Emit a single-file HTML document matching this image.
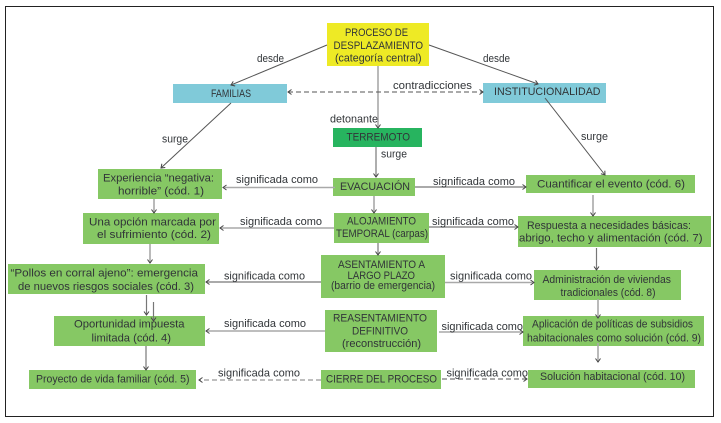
<!DOCTYPE html>
<html lang="es"><head><meta charset="utf-8"><title>Proceso de desplazamiento</title>
<style>
html,body{margin:0;padding:0;background:#fff;width:721px;height:423px;overflow:hidden}
svg{display:block}
text{font-family:"Liberation Sans",sans-serif;font-size:11px;fill:#303438}
.l{stroke:#555;stroke-width:1;fill:none;marker-end:url(#a)}
.g{stroke:#a9a9a9;stroke-width:1.6;fill:none;marker-end:url(#a)}
.m{stroke:#777;stroke-width:1.2;fill:none;marker-end:url(#a)}
.d{stroke-dasharray:5 3}
</style></head><body>
<svg width="721" height="423" viewBox="0 0 721 423" xmlns="http://www.w3.org/2000/svg">
<defs>
<marker id="a" markerUnits="userSpaceOnUse" markerWidth="8" markerHeight="8" refX="6" refY="4" orient="auto-start-reverse"><path d="M2.5 1.5L6 4L2.5 6.5" fill="none" stroke="#444" stroke-width="1"/></marker>
<filter id="b" x="-5%" y="-20%" width="110%" height="140%"><feGaussianBlur stdDeviation="0.22"/></filter>
</defs>
<rect x="5.5" y="6.5" width="708" height="410" fill="#fff" stroke="#222" stroke-width="1"/>
<g fill="#86c864">
<rect x="98" y="169" width="124" height="30"/>
<rect x="333" y="178" width="82" height="18"/>
<rect x="526" y="175" width="169" height="18"/>
<rect x="83" y="213" width="136" height="31"/>
<rect x="334" y="213" width="95" height="30"/>
<rect x="518" y="216" width="193" height="31"/>
<rect x="8" y="264" width="197" height="30"/>
<rect x="321" y="255" width="124" height="43"/>
<rect x="534" y="270" width="147" height="30"/>
<rect x="54" y="316" width="151" height="30"/>
<rect x="325" y="310" width="112" height="42"/>
<rect x="523" y="316" width="181" height="30"/>
<rect x="29" y="370" width="167" height="19"/>
<rect x="321" y="370" width="120" height="19"/>
<rect x="528" y="370" width="167" height="18"/>
</g>
<rect x="327" y="23" width="102" height="43" fill="#eeea25"/>
<rect x="173" y="84" width="114" height="19" fill="#80cad9"/>
<rect x="483" y="83" width="123" height="20" fill="#80cad9"/>
<rect x="333" y="128" width="89" height="19" fill="#27b45f"/>

<path class="l" d="M327 45L231 85"/>
<path class="l" d="M429 45L538 84"/>
<path class="l" d="M231 103L161 168"/>
<path class="l" d="M545 98L605 175"/>
<path class="g" d="M378 66V128"/>
<path class="l d" d="M288 92H483" style="marker-start:url(#a)"/>
<path class="m" d="M376 147V177"/>
<path class="g" d="M335 187.5H223"/>
<path class="m" d="M415 187H526"/>
<path class="g" d="M374 196V213"/>
<path class="g" d="M154 199V213"/>
<path class="g" d="M334 228H220"/>
<path class="m" d="M429 227H518"/>
<path class="m" d="M378 243V255"/>
<path class="g" d="M150 244V263"/>
<path class="m" d="M321 282H206"/>
<path class="g" d="M445 282.5H534"/>
<path class="m" d="M146.5 295V315"/>
<path class="m" d="M153.5 302V321"/>
<path class="g" d="M325 331H206"/>
<path class="g" d="M439 332H523"/>
<path class="m" d="M146 346V370"/>
<path class="g d" d="M321 380H199"/>
<path class="l d" d="M442 379H527"/>
<path class="g" d="M593 195V216"/>
<path class="m" d="M596.5 248V270"/>
<path class="g" d="M598 299V318"/>
<path class="g" d="M598 343V362"/>

<g filter="url(#b)" lengthAdjust="spacingAndGlyphs">
<text x="345" y="36" textLength="63" lengthAdjust="spacingAndGlyphs">PROCESO DE</text>
<text x="333.5" y="49" textLength="89.5" lengthAdjust="spacingAndGlyphs">DESPLAZAMIENTO</text>
<text x="335" y="61.5" textLength="86.5" lengthAdjust="spacingAndGlyphs">(categoría central)</text>
<text x="257" y="62" textLength="27" lengthAdjust="spacingAndGlyphs">desde</text>
<text x="483" y="62" textLength="27" lengthAdjust="spacingAndGlyphs">desde</text>
<text x="211" y="97" textLength="40" lengthAdjust="spacingAndGlyphs">FAMILIAS</text>
<text x="393" y="89" textLength="79" lengthAdjust="spacingAndGlyphs">contradicciones</text>
<text x="494" y="95" textLength="106.5" lengthAdjust="spacingAndGlyphs">INSTITUCIONALIDAD</text>
<text x="330" y="122.5" textLength="48" lengthAdjust="spacingAndGlyphs">detonante</text>
<text x="346.5" y="140.5" textLength="63.5" lengthAdjust="spacingAndGlyphs">TERREMOTO</text>
<text x="162" y="142.5" textLength="26" lengthAdjust="spacingAndGlyphs">surge</text>
<text x="581" y="140" textLength="27" lengthAdjust="spacingAndGlyphs">surge</text>
<text x="381" y="157.5" textLength="26" lengthAdjust="spacingAndGlyphs">surge</text>
<text x="103" y="181.5" textLength="111" lengthAdjust="spacingAndGlyphs">Experiencia “negativa:</text>
<text x="118" y="194.5" textLength="86" lengthAdjust="spacingAndGlyphs">horrible” (cód. 1)</text>
<text x="236" y="183" textLength="82" lengthAdjust="spacingAndGlyphs">significada como</text>
<text x="340" y="190" textLength="70" lengthAdjust="spacingAndGlyphs">EVACUACIÓN</text>
<text x="433" y="185" textLength="82" lengthAdjust="spacingAndGlyphs">significada como</text>
<text x="537" y="187.5" textLength="148" lengthAdjust="spacingAndGlyphs">Cuantificar el evento (cód. 6)</text>
<text x="89" y="225.5" textLength="127" lengthAdjust="spacingAndGlyphs">Una opción marcada por</text>
<text x="97" y="238" textLength="114" lengthAdjust="spacingAndGlyphs">el sufrimiento (cód. 2)</text>
<text x="240" y="225" textLength="82" lengthAdjust="spacingAndGlyphs">significada como</text>
<text x="347" y="224.5" textLength="69" lengthAdjust="spacingAndGlyphs">ALOJAMIENTO</text>
<text x="336" y="237" textLength="92" lengthAdjust="spacingAndGlyphs">TEMPORAL (carpas)</text>
<text x="432" y="225" textLength="82" lengthAdjust="spacingAndGlyphs">significada como</text>
<text x="527" y="229" textLength="164" lengthAdjust="spacingAndGlyphs">Respuesta a necesidades básicas:</text>
<text x="519" y="241.5" textLength="183.5" lengthAdjust="spacingAndGlyphs">abrigo, techo y alimentación (cód. 7)</text>
<text x="10.5" y="276.5" textLength="187.5" lengthAdjust="spacingAndGlyphs">“Pollos en corral ajeno”: emergencia</text>
<text x="18" y="290" textLength="176" lengthAdjust="spacingAndGlyphs">de nuevos riesgos sociales (cód. 3)</text>
<text x="224" y="279.5" textLength="81" lengthAdjust="spacingAndGlyphs">significada como</text>
<text x="338" y="268" textLength="87" lengthAdjust="spacingAndGlyphs">ASENTAMIENTO A</text>
<text x="347.5" y="279" textLength="67.5" lengthAdjust="spacingAndGlyphs">LARGO PLAZO</text>
<text x="331" y="289" textLength="104" lengthAdjust="spacingAndGlyphs">(barrio de emergencia)</text>
<text x="450" y="279.5" textLength="82" lengthAdjust="spacingAndGlyphs">significada como</text>
<text x="542.5" y="283" textLength="128.5" lengthAdjust="spacingAndGlyphs">Administración de viviendas</text>
<text x="560.5" y="296" textLength="95" lengthAdjust="spacingAndGlyphs">tradicionales (cód. 8)</text>
<text x="74" y="327.5" textLength="110.5" lengthAdjust="spacingAndGlyphs">Oportunidad impuesta</text>
<text x="91.5" y="341.5" textLength="79.5" lengthAdjust="spacingAndGlyphs">limitada (cód. 4)</text>
<text x="224" y="327" textLength="82" lengthAdjust="spacingAndGlyphs">significada como</text>
<text x="333" y="321.5" textLength="94" lengthAdjust="spacingAndGlyphs">REASENTAMIENTO</text>
<text x="352" y="334.5" textLength="56" lengthAdjust="spacingAndGlyphs">DEFINITIVO</text>
<text x="342" y="347" textLength="79" lengthAdjust="spacingAndGlyphs">(reconstrucción)</text>
<text x="441.5" y="330" textLength="81.5" lengthAdjust="spacingAndGlyphs">significada como</text>
<text x="532" y="327.5" textLength="161" lengthAdjust="spacingAndGlyphs">Aplicación de políticas de subsidios</text>
<text x="527" y="341.5" textLength="174" lengthAdjust="spacingAndGlyphs">habitacionales como solución (cód. 9)</text>
<text x="36" y="382.5" textLength="153.5" lengthAdjust="spacingAndGlyphs">Proyecto de vida familiar (cód. 5)</text>
<text x="218" y="376.5" textLength="82" lengthAdjust="spacingAndGlyphs">significada como</text>
<text x="326" y="382.5" textLength="111" lengthAdjust="spacingAndGlyphs">CIERRE DEL PROCESO</text>
<text x="446.5" y="376.5" textLength="81.5" lengthAdjust="spacingAndGlyphs">significada como</text>
<text x="540" y="380" textLength="145" lengthAdjust="spacingAndGlyphs">Solución habitacional (cód. 10)</text>
</g>
</svg>
</body></html>
